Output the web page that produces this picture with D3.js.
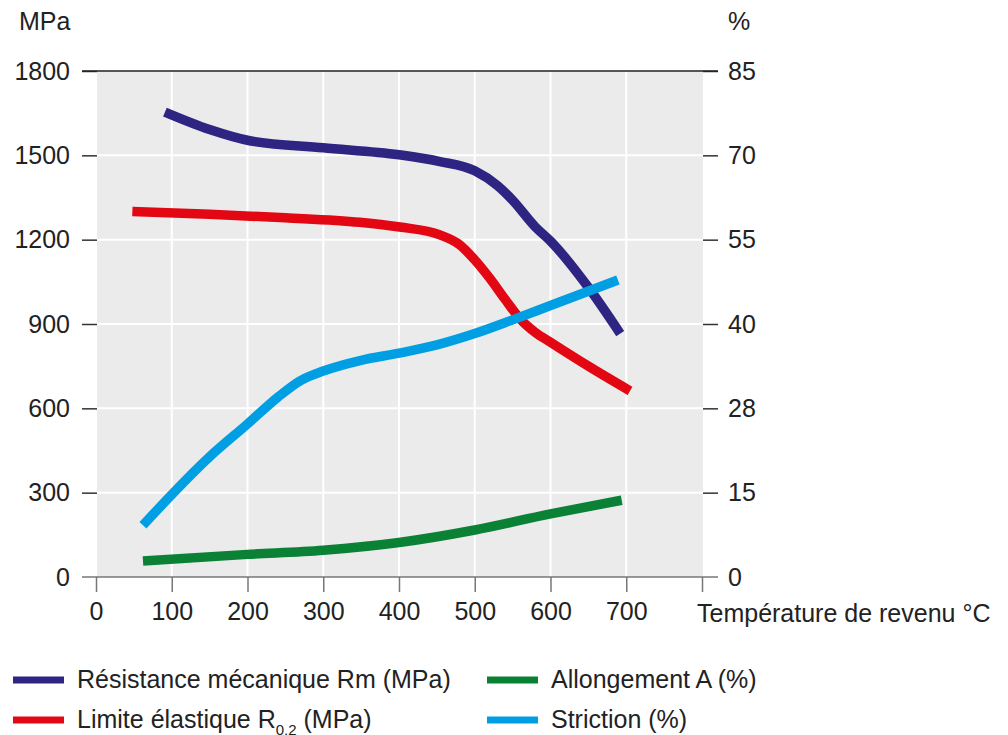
<!DOCTYPE html>
<meta charset="utf-8">
<style>
body { margin: 0; background: #fff; }
text { font-family: "Liberation Sans", Arial, sans-serif; fill: #222; }
.tick text { font-size: 25px; }
.legend text { font-size: 25px; }
</style>
<script src="https://cdn.jsdelivr.net/npm/d3@7"></script>
<body>
<script>

// temperatures (°C) and values
var rmTemp = [91, 150, 203, 300, 400, 454, 500, 530, 550, 580, 600, 650, 692];
var rmVal  = [1654, 1592, 1552, 1527, 1502, 1478, 1445, 1392, 1340, 1245, 1195, 1030, 866];

var rpTemp = [48, 150, 250, 348, 401, 454, 480, 500, 520, 540, 560, 580, 600, 650, 705];
var rpVal  = [1300, 1290, 1278, 1262, 1245, 1217, 1182, 1128, 1062, 988, 918, 870, 835, 750, 662];

var aTemp = [62, 200, 300, 400, 500, 600, 694];
var aVal  = [2.7, 3.8, 4.5, 5.8, 7.9, 10.6, 12.9];

var zTemp = [62, 150, 200, 240, 270, 300, 350, 400, 450, 500, 550, 600, 689];
var zVal  = [8.7, 20.2, 25.7, 30.2, 33.0, 34.6, 36.4, 37.6, 39.0, 40.9, 43.2, 45.6, 49.9];

var xTicks = [0, 100, 200, 300, 400, 500, 600, 700, 800];
var xTickLabels = ["0", "100", "200", "300", "400", "500", "600", "700", ""];
var leftTicks = [0, 300, 600, 900, 1200, 1500, 1800];
var rightTicks = [0, 85 / 6, 85 / 3, 42.5, 85 * 2 / 3, 85 * 5 / 6, 85];
var rightTickLabels = ["0", "15", "28", "40", "55", "70", "85"];

var series = [
  {name: "Résistance mécanique Rm (MPa)", color: "#2e2583", t: rmTemp, v: rmVal, axis: "left"},
  {name: "Limite élastique R", sub: "0,2", after: " (MPa)", color: "#e30613", t: rpTemp, v: rpVal, axis: "left"},
  {name: "Allongement A (%)", color: "#0b8136", t: aTemp, v: aVal, axis: "right"},
  {name: "Striction (%)", color: "#009fe3", t: zTemp, v: zVal, axis: "right"}
];

var width = 1008, height = 735;
var pLeft = 97, pRight = 703, pTop = 71, pBottom = 577;

var svg = d3.select("body").append("svg")
    .attr("width", width)
    .attr("height", height);

var x = d3.scaleLinear().domain([0, 800]).range([96, 702]);
var yL = d3.scaleLinear().domain([0, 1800]).range([pBottom, pTop]);
var yR = d3.scaleLinear().domain([0, 85]).range([pBottom, pTop]);

// plot background
svg.append("rect")
    .attr("x", pLeft).attr("y", pTop)
    .attr("width", pRight - pLeft).attr("height", pBottom - pTop)
    .attr("fill", "#ebebeb");

// white grid
svg.append("g").selectAll("line")
    .data(xTicks.filter(function(d) { return d > 0 && d < 800; }))
    .enter().append("line")
    .attr("x1", function(d) { return x(d); }).attr("x2", function(d) { return x(d); })
    .attr("y1", pTop).attr("y2", pBottom)
    .attr("stroke", "#fff").attr("stroke-width", 2);

svg.append("g").selectAll("line")
    .data(leftTicks.filter(function(d) { return d > 0 && d < 1800; }))
    .enter().append("line")
    .attr("x1", pLeft).attr("x2", pRight)
    .attr("y1", function(d) { return yL(d); }).attr("y2", function(d) { return yL(d); })
    .attr("stroke", "#fff").attr("stroke-width", 2);

// left axis
var gl = svg.append("g")
    .attr("class", "tick")
    .attr("transform", "translate(" + pLeft + ",0)")
    .call(d3.axisLeft(yL).tickValues(leftTicks).tickFormat(d3.format("d"))
      .tickSize(15).tickPadding(12));
gl.select(".domain").remove();
gl.selectAll("line").attr("stroke", "#333").attr("stroke-width", 1.5);

// right axis
var gr = svg.append("g")
    .attr("class", "tick")
    .attr("transform", "translate(" + pRight + ",0)")
    .call(d3.axisRight(yR).tickValues(rightTicks)
      .tickFormat(function(d, i) { return rightTickLabels[i]; })
      .tickSize(15).tickPadding(10));
gr.select(".domain").remove();
gr.selectAll("line").attr("stroke", "#333").attr("stroke-width", 1.5);

// top line
svg.append("line")
    .attr("x1", 82).attr("x2", 718)
    .attr("y1", pTop).attr("y2", pTop)
    .attr("stroke", "#222").attr("stroke-width", 1.5);

// bottom axis
var gx = svg.append("g")
    .attr("class", "tick")
    .attr("transform", "translate(0," + pBottom + ")")
    .call(d3.axisBottom(x).tickValues(xTicks)
      .tickFormat(function(d, i) { return xTickLabels[i]; })
      .tickSize(15).tickPadding(10));
gx.select(".domain").remove();
gx.selectAll("line").attr("stroke", "#777").attr("stroke-width", 1.5);
svg.append("line")
    .attr("x1", 82).attr("x2", 718)
    .attr("y1", pBottom).attr("y2", pBottom)
    .attr("stroke", "#777").attr("stroke-width", 1.5);
gl.selectAll(".tick").filter(function(d) { return d === 0; }).select("line").remove();
gr.selectAll(".tick").filter(function(d) { return d === 0; }).select("line").remove();

// axis titles
svg.append("text").attr("x", 19).attr("y", 30).style("font-size", "25px").text("MPa");
svg.append("text").attr("x", 728).attr("y", 30).style("font-size", "25px").text("%");
svg.append("text").attr("x", 697).attr("y", 622).style("font-size", "25px").text("Température de revenu °C");

// curves
series.forEach(function(s) {
  var y = s.axis == "left" ? yL : yR;
  var line = d3.line()
      .x(function(d) { return x(d[0]); })
      .y(function(d) { return y(d[1]); })
      .curve(d3.curveMonotoneX);
  svg.append("path")
      .datum(d3.zip(s.t, s.v))
      .attr("d", line)
      .attr("fill", "none")
      .attr("stroke", s.color)
      .attr("stroke-width", 9.5)
      .attr("stroke-linecap", "butt")
      .attr("stroke-linejoin", "round");
});

// legend
var legPos = [[13, 680], [13, 720], [487, 680], [487, 720]];
var leg = svg.append("g").attr("class", "legend");
series.forEach(function(s, i) {
  var p = legPos[i];
  leg.append("rect")
      .attr("x", p[0]).attr("y", p[1] - 3.5)
      .attr("width", 51).attr("height", 7)
      .attr("fill", s.color);
  var t = leg.append("text")
      .attr("x", p[0] + 64).attr("y", p[1] + 8);
  t.append("tspan").text(s.name);
  if (s.sub) {
    t.append("tspan").attr("dy", 7).style("font-size", "15px").text(s.sub);
    t.append("tspan").attr("dy", -7).text(s.after);
  }
});

</script>
</body>
